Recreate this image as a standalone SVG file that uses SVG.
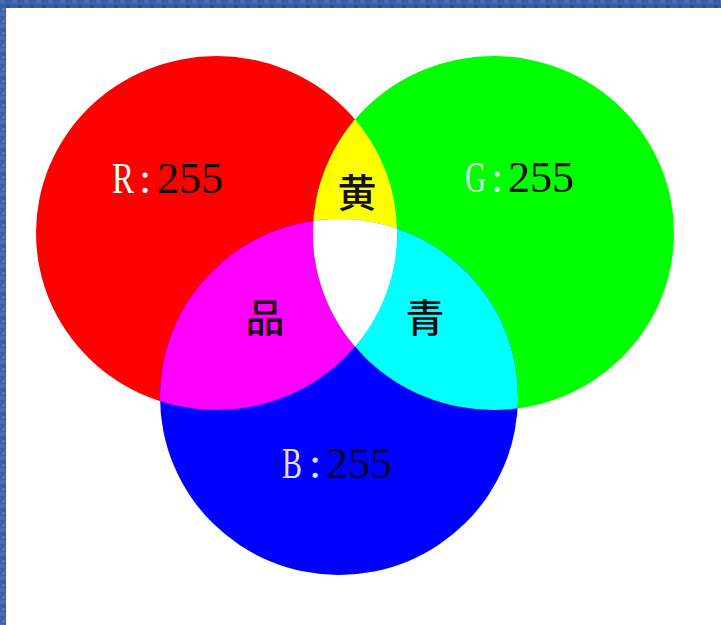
<svg xmlns="http://www.w3.org/2000/svg" width="721" height="625" viewBox="0 0 721 625">
  <style>
    .lat { font-family: "Liberation Serif", "DejaVu Serif", serif; font-size: 44px; }
    .cjk { font-family: "Noto Sans CJK SC", "Noto Sans", sans-serif; font-size: 39px; font-weight: 500; fill: #111; }
    .lt { fill: #ffffff; }
    .dk { fill: #140a0a; }
  </style>
  <defs>
    <pattern id="tex" width="12" height="12" patternUnits="userSpaceOnUse">
      <rect width="12" height="12" fill="#3b5ea8"/>
      <rect x="0" y="0" width="5" height="4" fill="#4a6cb4"/>
      <rect x="6" y="5" width="4" height="4" fill="#2f519a"/>
      <rect x="2" y="8" width="3" height="3" fill="#5677bd"/>
    </pattern>
    <clipPath id="cR"><ellipse cx="216.5" cy="233" rx="180.5" ry="177"/></clipPath>
    <clipPath id="cG"><ellipse cx="493.5" cy="233" rx="180.5" ry="177"/></clipPath>
  </defs>

  <g id="background">
    <rect width="721" height="625" fill="url(#tex)"/>
    <rect x="6" y="8" width="715" height="617" fill="#ffffff"/>
  </g>

  <g id="circle-red"><ellipse cx="216.5" cy="233" rx="180.5" ry="177" fill="#ff0000"/></g>
  <g id="circle-green"><ellipse cx="493.5" cy="233" rx="180.5" ry="177" fill="#00ff00"/></g>
  <g id="circle-blue"><ellipse cx="339" cy="397" rx="179" ry="178" fill="#0000ff"/></g>

  <g id="overlap-yellow" clip-path="url(#cR)">
    <ellipse cx="493.5" cy="233" rx="180.5" ry="177" fill="#ffff00"/>
  </g>
  <g id="overlap-magenta" clip-path="url(#cR)">
    <ellipse cx="339" cy="397" rx="179" ry="178" fill="#ff00ff"/>
  </g>
  <g id="overlap-cyan" clip-path="url(#cG)">
    <ellipse cx="339" cy="397" rx="179" ry="178" fill="#00ffff"/>
  </g>
  <g id="overlap-white" clip-path="url(#cG)">
    <ellipse cx="339" cy="397" rx="179" ry="178" fill="#ffffff" clip-path="url(#cR)"/>
  </g>

  <g id="label-r">
    <text class="lat lt" transform="translate(112,193) scale(0.75,1)">R</text>
    <text class="lat" y="193"><tspan class="lt" x="139">:</tspan><tspan class="dk" x="157">255</tspan></text>
  </g>
  <g id="label-g">
    <text class="lat lt" fill-opacity="0.85" transform="translate(465,192) scale(0.66,1)">G</text>
    <text class="lat" y="192"><tspan class="lt" fill-opacity="0.85" x="491">:</tspan><tspan class="dk" x="508">255</tspan></text>
  </g>
  <g id="label-b">
    <text class="lat lt" fill-opacity="0.9" transform="translate(282,478) scale(0.68,1)">B</text>
    <text class="lat" y="478"><tspan class="lt" fill-opacity="0.9" x="309">:</tspan><tspan fill="#000033" x="326">255</tspan></text>
  </g>

  <g id="label-yellow"><text class="cjk" x="357" y="207" text-anchor="middle">黄</text></g>
  <g id="label-magenta"><text class="cjk" x="265" y="332" text-anchor="middle">品</text></g>
  <g id="label-cyan"><text class="cjk" x="425" y="332" text-anchor="middle">青</text></g>
</svg>
